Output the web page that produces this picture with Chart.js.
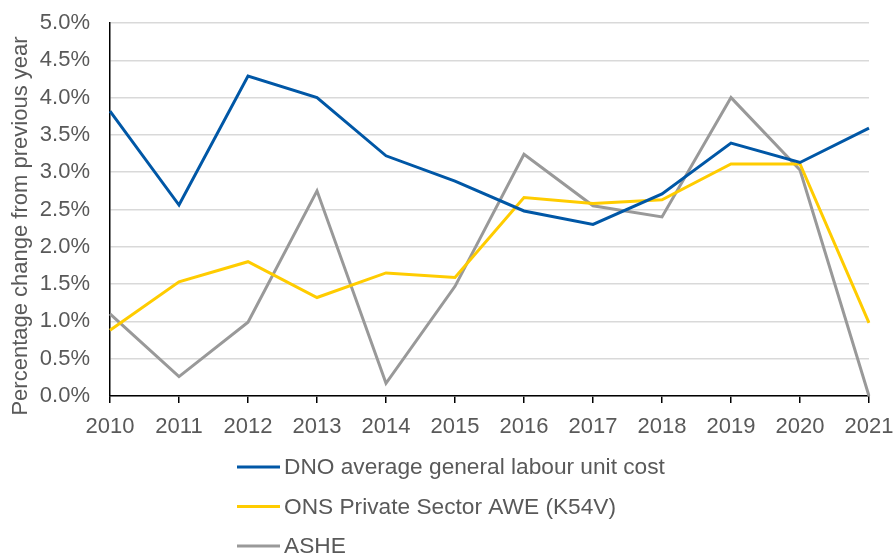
<!DOCTYPE html>
<html>
<head>
<meta charset="utf-8">
<script src="https://cdn.jsdelivr.net/npm/chart.js@4"></script>
<style>
  html, body { margin: 0; padding: 0; background: #fff; }
  #wrap { width: 893px; height: 554px; position: relative; }
</style>
</head>
<body>
<div id="wrap"><canvas id="labourChart"></canvas></div>
<script>
const years = ['2010', '2011', '2012', '2013', '2014', '2015', '2016', '2017', '2018', '2019', '2020', '2021'];
const dnoCost = [3.82, 2.56, 4.29, 4.00, 3.22, 2.88, 2.48, 2.30, 2.71, 3.39, 3.13, 3.59];
const onsAwe = [0.88, 1.53, 1.80, 1.32, 1.65, 1.59, 2.66, 2.58, 2.63, 3.11, 3.11, 0.98];
const ashe = [1.10, 0.26, 0.99, 2.75, 0.17, 1.47, 3.24, 2.55, 2.40, 4.00, 3.03, 0.00];
const seriesNames = ['DNO average general labour unit cost', 'ONS Private Sector AWE (K54V)', 'ASHE'];
const yTitle = 'Percentage change from previous year';

const fontFamily = "'Liberation Sans', Arial, sans-serif";
const textColor = '#595959';

// y title (sits a bit lower than the plot centre) and a vertical legend list
const extraText = {
    id: 'extraText',
    afterDraw(chart) {
        const c = chart.ctx;
        c.save();
        c.fillStyle = textColor;
        c.font = '22px ' + fontFamily;
        c.textAlign = 'center';
        c.textBaseline = 'middle';
        c.translate(21, 226);
        c.rotate(-Math.PI / 2);
        c.fillText(yTitle, 0, 0);
        c.restore();

        c.save();
        c.font = '22.7px ' + fontFamily;
        c.textBaseline = 'middle';
        chart.data.datasets.forEach(function(ds, i) {
            const y = 467 + i * 39.5;
            c.strokeStyle = ds.borderColor;
            c.lineWidth = 3;
            c.beginPath();
            c.moveTo(237, y);
            c.lineTo(280, y);
            c.stroke();
            c.fillStyle = textColor;
            c.fillText(ds.label, 284, y + 1);
        });
        c.restore();
    }
};

const ctx = document.getElementById('labourChart').getContext('2d');
const labourChart = new Chart(ctx, {
    type: 'line',
    data: {
        labels: years,
        datasets: [{
            label: seriesNames[0],
            data: dnoCost,
            borderColor: '#0057A6',
            borderWidth: 3
        }, {
            label: seriesNames[1],
            data: onsAwe,
            borderColor: '#FFCC00',
            borderWidth: 3
        }, {
            label: seriesNames[2],
            data: ashe,
            borderColor: '#999999',
            borderWidth: 3
        }]
    },
    options: {
        responsive: true,
        maintainAspectRatio: false,
        animation: false,
        elements: {
            point: { radius: 0, hoverRadius: 0 },
            line: { tension: 0 }
        },
        layout: {
            padding: { top: 23, right: 24, bottom: 113, left: 0 }
        },
        plugins: {
            legend: { display: false },
            tooltip: { enabled: false }
        },
        scales: {
            x: {
                offset: false,
                grid: {
                    display: true,
                    drawOnChartArea: false,
                    drawTicks: true,
                    tickLength: 7,
                    color: '#000000',
                    lineWidth: 1.5
                },
                border: { color: '#000000', width: 1.5 },
                ticks: {
                    font: { family: fontFamily, size: 22 },
                    color: textColor,
                    padding: 11,
                    maxRotation: 0,
                    autoSkip: false
                },
                afterFit: function(scale) {
                    scale.height = 45;
                    scale.paddingLeft = 0;
                    scale.paddingRight = 0;
                }
            },
            y: {
                min: 0,
                max: 5,
                grid: {
                    color: '#d9d9d9',
                    lineWidth: 1.5,
                    drawTicks: false
                },
                border: { color: '#000000', width: 1.5 },
                ticks: {
                    stepSize: 0.5,
                    font: { family: fontFamily, size: 22 },
                    color: textColor,
                    padding: 20,
                    callback: function(value) {
                        return value.toFixed(1) + '%';
                    }
                },
                afterFit: function(scale) {
                    scale.width = 110;
                    scale.paddingTop = 0;
                    scale.paddingBottom = 0;
                }
            }
        }
    },
    plugins: [extraText]
});
</script>
</body>
</html>
